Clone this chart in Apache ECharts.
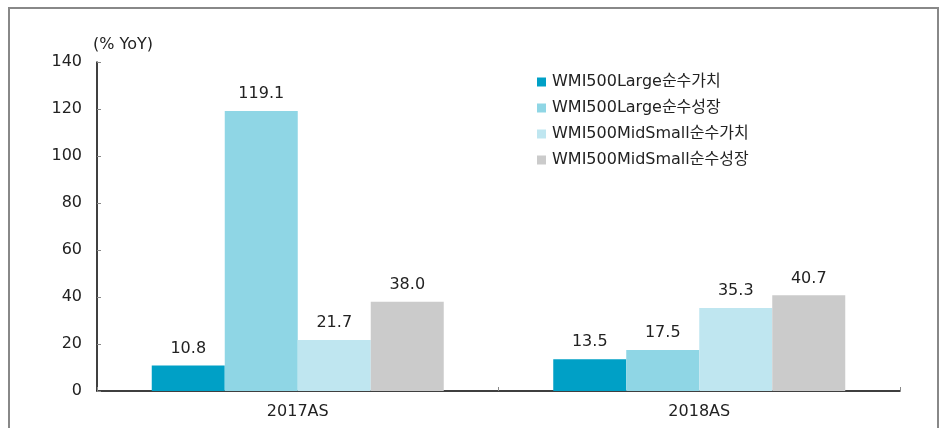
<!DOCTYPE html>
<html>
<head>
<meta charset="utf-8">
<script src="https://cdn.jsdelivr.net/npm/echarts@6/dist/echarts.min.js"></script>
<style>
  html, body { margin: 0; padding: 0; background: #fff; }
  #chart { width: 939px; height: 428px; }
</style>
</head>
<body>
<div id="chart"></div>
<script>
  // 데이터
  const categories = ['2017AS', '2018AS'];
  const seriesNames = ['WMI500Large순수가치', 'WMI500Large순수성장', 'WMI500MidSmall순수가치', 'WMI500MidSmall순수성장'];
  const largeValue = [10.8, 13.5];
  const largeGrowth = [119.1, 17.5];
  const midValue = [21.7, 35.3];
  const midGrowth = [38.0, 40.7];
  const colors = ['#00a0c6', '#8fd6e5', '#bfe6f0', '#cbcbcb'];

  const font = '"DejaVu Sans", "Noto Sans CJK KR", sans-serif';
  const chart = echarts.init(document.getElementById('chart'));

  const makeSeries = (name, data, i) => ({
    name: name,
    type: 'bar',
    data: data,
    barWidth: 73,
    barGap: '0%',
    itemStyle: { color: colors[i] },
    label: {
      show: true,
      position: 'top',
      distance: 9,
      color: '#222',
      fontSize: 16,
      fontFamily: font,
      formatter: p => p.value.toFixed(1)
    }
  });

  chart.setOption({
    animation: false,
    textStyle: { fontFamily: font },
    graphic: [{
      type: 'rect',
      shape: { x: 9, y: 8, width: 929, height: 440 },
      style: { fill: 'none', stroke: '#888', lineWidth: 2 },
      silent: true
    }],
    grid: { left: 97, top: 62, right: 39, bottom: 37 },
    legend: {
      orient: 'vertical',
      left: 532,
      top: 68,
      itemWidth: 9,
      itemHeight: 9,
      itemGap: 8,
      icon: 'rect',
      textStyle: { fontSize: 16, color: '#222', fontFamily: font, lineHeight: 18, padding: [0, 0, 0, 1] },
      data: seriesNames
    },
    xAxis: {
      type: 'category',
      data: categories,
      axisLine: { lineStyle: { color: '#000', width: 1.5 } },
      axisTick: { show: true, inside: true, length: 4, lineStyle: { color: '#888' } },
      axisLabel: { fontSize: 16, color: '#222', margin: 13 }
    },
    yAxis: {
      type: 'value',
      min: 0,
      max: 140,
      interval: 20,
      name: '(% YoY)',
      nameLocation: 'end',
      nameGap: 9,
      nameTextStyle: { fontSize: 16, color: '#222', align: 'left', padding: [0, 0, 0, -4] },
      axisLine: { show: true, lineStyle: { color: '#000', width: 1.5 } },
      axisTick: { show: true, inside: true, length: 4, lineStyle: { color: '#888' } },
      axisLabel: { fontSize: 16, color: '#222', margin: 15 },
      splitLine: { show: false }
    },
    series: [
      makeSeries(seriesNames[0], largeValue, 0),
      makeSeries(seriesNames[1], largeGrowth, 1),
      makeSeries(seriesNames[2], midValue, 2),
      makeSeries(seriesNames[3], midGrowth, 3)
    ]
  });
</script>
</body>
</html>
